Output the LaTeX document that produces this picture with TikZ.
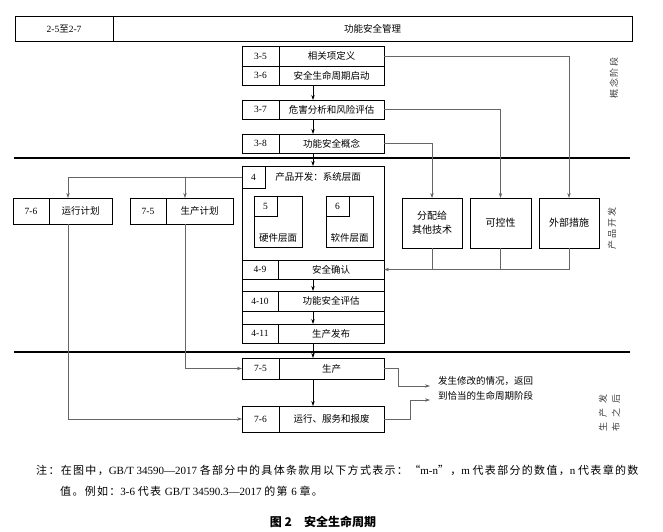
\documentclass[tikz,border=0pt]{standalone}
\usepackage{fontspec}
\setmainfont{Liberation Serif}
\newfontfamily\cjk{Noto Sans CJK SC}
\newfontfamily\cjksp[LetterSpace=20]{Noto Sans CJK SC}
\newfontfamily\cjkwide[LetterSpace=55]{Noto Sans CJK SC}
\newfontfamily\cjknote[LetterSpace=12]{Noto Sans CJK SC}
\usetikzlibrary{arrows.meta}
\begin{document}
\begin{tikzpicture}[x=1pt,y=-1pt,
  box/.style={draw=black, line width=0.9pt, inner sep=0pt, outer sep=0pt},
  num/.style={font=\fontsize{9.5}{10}\selectfont},
  txt/.style={font=\cjk\fontsize{9.5}{11}\selectfont},
  conn/.style={draw=black!60, line width=0.7pt},
  arr/.style={-{Stealth[length=5pt,width=3.4pt]}},
  mainarr/.style={draw=black, line width=0.7pt, -{Stealth[length=5pt,width=3.4pt]}},
  rulebar/.style={line width=2.6pt},
  side/.style={text=black!75, font=\cjksp\fontsize{9}{10}\selectfont, rotate=90, inner sep=0pt}]

\useasboundingbox (0,0) rectangle (663,532);
\fill[white] (0,0) rectangle (663,532);

% top bar
\node[box, num, minimum width=98pt, minimum height=25pt] (topl) at (64,28.5) {2-5{\cjk 至}2-7};
\node[box, txt, minimum width=519pt, minimum height=25pt] (topr) at (372.5,28.5) {功能安全管理};

% concept phase
\node[box, num, minimum width=37pt, minimum height=20pt] (l35) at (260.5,56) {3-5};
\node[box, txt, minimum width=105pt, minimum height=20pt] (t35) at (331.5,56) {相关项定义};
\node[box, num, minimum width=37pt, minimum height=19pt] (l36) at (260.5,75.5) {3-6};
\node[box, txt, minimum width=105pt, minimum height=19pt] (t36) at (331.5,75.5) {安全生命周期启动};
\node[box, num, minimum width=37pt, minimum height=19pt] (l37) at (260.5,109.5) {3-7};
\node[box, txt, minimum width=105pt, minimum height=19pt] (t37) at (331.5,109.5) {危害分析和风险评估};
\node[box, num, minimum width=37pt, minimum height=19pt] (l38) at (260.5,143.5) {3-8};
\node[box, txt, minimum width=105pt, minimum height=19pt] (t38) at (331.5,143.5) {功能安全概念};

\draw[rulebar] (14,158) -- (630,158);
\draw[rulebar] (14,352) -- (630,352);

% product development box
\node[box, minimum width=142pt, minimum height=177pt] (box4) at (313,254.5) {};
\node[box, num, minimum width=23pt, minimum height=22pt] (lab4) at (253.5,177) {4};
\node[txt, inner sep=0pt] (t4) at (318,177) {产品开发：系统层面};
\node[box, minimum width=48pt, minimum height=51pt] (box5) at (278,221.5) {};
\node[box, num, minimum width=23pt, minimum height=20pt] (lab5) at (265.5,206) {5};
\node[txt, inner sep=0pt] (t5) at (278,238) {硬件层面};
\node[box, minimum width=47pt, minimum height=51pt] (box6) at (349.5,221.5) {};
\node[box, num, minimum width=23pt, minimum height=20pt] (lab6) at (337.5,206) {6};
\node[txt, inner sep=0pt] (t6) at (349.5,238) {软件层面};

\node[box, num, minimum width=36pt, minimum height=19pt] (l49) at (260,269.5) {4-9};
\node[box, txt, minimum width=106pt, minimum height=19pt] (t49) at (331,269.5) {安全确认};
\node[box, num, minimum width=36pt, minimum height=20pt] (l410) at (260,301) {4-10};
\node[box, txt, minimum width=106pt, minimum height=20pt] (t410) at (331,301) {功能安全评估};
\node[box, num, minimum width=36pt, minimum height=19pt] (l411) at (260,333.5) {4-11};
\node[box, txt, minimum width=106pt, minimum height=19pt] (t411) at (331,333.5) {生产发布};

% left planning boxes
\node[box, num, minimum width=36pt, minimum height=26pt] (l76) at (31,211) {7-6};
\node[box, txt, minimum width=63pt, minimum height=26pt] (t76) at (80.5,211) {运行计划};
\node[box, num, minimum width=36pt, minimum height=26pt] (l75) at (148,211) {7-5};
\node[box, txt, minimum width=67pt, minimum height=26pt] (t75) at (199.5,211) {生产计划};

% right boxes
\node[box, minimum width=60pt, minimum height=50pt, align=center, font=\cjk\fontsize{10}{14}\selectfont] (alloc) at (432,223) {分配给\\其他技术};
\node[box, minimum width=61pt, minimum height=50pt, font=\cjk\fontsize{10}{12}\selectfont] (ctrl) at (500.5,223) {可控性};
\node[box, minimum width=60pt, minimum height=50pt, font=\cjk\fontsize{10}{12}\selectfont] (ext) at (569,223) {外部措施};

% after release
\node[box, num, minimum width=37pt, minimum height=21pt] (b75l) at (260.5,368.5) {7-5};
\node[box, txt, minimum width=105pt, minimum height=21pt] (b75t) at (331.5,368.5) {生产};
\node[box, num, minimum width=37pt, minimum height=26pt] (b76l) at (260.5,419) {7-6};
\node[box, txt, minimum width=105pt, minimum height=26pt] (b76t) at (331.5,419) {运行、服务和报废};

% main flow arrows
\draw[mainarr] (t36.south -| box4.north) -- (t37.north -| box4.north);
\draw[mainarr] (t37.south -| box4.north) -- (t38.north -| box4.north);
\draw[mainarr] (t38.south -| box4.north) -- (box4.north);
\draw[mainarr] (t49.south -| box4.north) -- (t410.north -| box4.north);
\draw[mainarr] (t410.south -| box4.north) -- (t411.north -| box4.north);
\draw[mainarr] (box4.south) -- (b75t.north -| box4.north);
\draw[mainarr] (b75t.south -| box4.north) -- (b76t.north -| box4.north);

% concept to right boxes
\draw[conn, arr] (t35.east) -| (ext.north);
\draw[conn, arr] (t37.east) -| (ctrl.north);
\draw[conn, arr] (t38.east) -| (alloc.north);
\draw[conn, arr] (ext.south) |- (t49.east);
\draw[conn] (ctrl.south) -- (ctrl.south |- t49.east);
\draw[conn] (alloc.south) -- (alloc.south |- t49.east);

% left planning connectors
\draw[conn, arr] (lab4.west) -| ([xshift=-12.5pt]t76.north);
\draw[conn, arr] ([xshift=-14.5pt]t75.north |- lab4.west) -- ([xshift=-14.5pt]t75.north);
\draw[conn, arr] ([xshift=-12.5pt]t76.south) |- (b76l.west);
\draw[conn, arr] ([xshift=-14.5pt]t75.south) |- (b75l.west);

% return
\coordinate (ret1) at (430,386);
\coordinate (ret2) at (430,400);
\draw[conn, arr] (b75t.east) -- ++(14,0) |- (ret1);
\draw[conn, arr] (b76t.east) -- ++(26,0) |- (ret2);
\node[txt, anchor=west, inner sep=0pt] (rt1) at (438,381) {发生修改的情况，返回};
\node[txt, anchor=west, inner sep=0pt] (rt2) at (438,396) {到恰当的生命周期阶段};

% side labels
\node[side] (s1) at (614,78) {概念阶段};
\node[side] (s2) at (612,228.5) {产品开发};
\node[side, font=\cjkwide\fontsize{9}{13}\selectfont, align=center] (s3) at (609.5,413) {生产发\\布之后};

% note
\node[anchor=west, inner sep=0pt, font=\fontsize{11}{12}\selectfont] (note1) at (36,470)
 {{\cjknote 注：在图中，}GB/T 34590—2017 {\cjknote 各部分中的具体条款用以下方式表示：“}m-n{\cjknote ”，}m {\cjknote 代表部分的数值，}n {\cjknote 代表章的数}};
\node[anchor=west, inner sep=0pt, font=\fontsize{11}{12}\selectfont] (note2) at (60,491)
 {{\cjknote 值。例如：}3-6 {\cjknote 代表 }GB/T 34590.3—2017 {\cjknote 的第 }6 {\cjknote 章。}};
\node[inner sep=0pt, font=\cjk\bfseries\fontsize{12}{13}\selectfont] (cap) at (323,522) {图 2\quad 安全生命周期};
\end{tikzpicture}
\end{document}
